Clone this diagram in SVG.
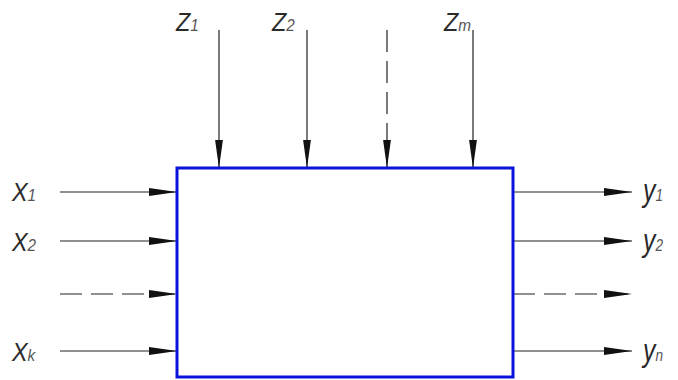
<svg xmlns="http://www.w3.org/2000/svg" width="678" height="380" viewBox="0 0 678 380">
  <style>
    .wire { stroke: #222; stroke-width: 1.2; fill: none; }
    .dash { stroke-dasharray: 22 9; }
    .lbl { font-family: "Liberation Sans", Arial, sans-serif; font-style: italic; font-size: 26px; fill: #2a2a2a; }
    .big { font-size: 31px; }
    .sub { font-size: 17px; fill: #555; }
    .block { fill: #fff; stroke: #0a14d8; stroke-width: 3; }
  </style>
  <defs>
    <marker id="arrow" viewBox="0 0 28 9" refX="28" refY="4.5" markerWidth="28" markerHeight="9" markerUnits="userSpaceOnUse" orient="auto">
      <path d="M0,0.6 L28,4.5 L0,8.4 Z" fill="#111"/>
    </marker>
  </defs>

  <g id="connectors">
    <!-- disturbance inputs from above -->
    <line class="wire" x1="219" y1="30" x2="219" y2="168" marker-end="url(#arrow)"/>
    <line class="wire" x1="307" y1="30" x2="307" y2="168" marker-end="url(#arrow)"/>
    <line class="wire dash" x1="387" y1="30" x2="387" y2="168" marker-end="url(#arrow)"/>
    <line class="wire" x1="473" y1="30" x2="473" y2="168" marker-end="url(#arrow)"/>
    <!-- inputs from the left -->
    <line class="wire" x1="60" y1="192" x2="177" y2="192" marker-end="url(#arrow)"/>
    <line class="wire" x1="60" y1="241" x2="177" y2="241" marker-end="url(#arrow)"/>
    <line class="wire dash" x1="60" y1="294" x2="177" y2="294" marker-end="url(#arrow)"/>
    <line class="wire" x1="60" y1="351" x2="177" y2="351" marker-end="url(#arrow)"/>
    <!-- outputs to the right -->
    <line class="wire" x1="513" y1="192" x2="632" y2="192" marker-end="url(#arrow)"/>
    <line class="wire" x1="513" y1="241" x2="632" y2="241" marker-end="url(#arrow)"/>
    <line class="wire dash" x1="513" y1="294" x2="632" y2="294" marker-end="url(#arrow)"/>
    <line class="wire" x1="513" y1="351" x2="632" y2="351" marker-end="url(#arrow)"/>
  </g>

  <g id="object">
    <rect class="block" x="177" y="168" width="336" height="209"/>
  </g>

  <g id="labels-z">
    <text class="lbl" transform="translate(176,31) scale(0.9,1)">Z<tspan class="sub">1</tspan></text>
    <text class="lbl" transform="translate(272,31) scale(0.9,1)">Z<tspan class="sub">2</tspan></text>
    <text class="lbl" transform="translate(444,31) scale(0.9,1)">Z<tspan class="sub">m</tspan></text>
  </g>

  <g id="labels-x">
    <text class="lbl" transform="translate(12,201) scale(0.9,1)">X<tspan class="sub">1</tspan></text>
    <text class="lbl" transform="translate(12,251) scale(0.9,1)">X<tspan class="sub">2</tspan></text>
    <text class="lbl" transform="translate(12,361) scale(0.9,1)">X<tspan class="sub">k</tspan></text>
  </g>

  <g id="labels-y">
    <text class="lbl big" transform="translate(643,201) scale(0.8,1)">y<tspan class="sub">1</tspan></text>
    <text class="lbl big" transform="translate(643,251) scale(0.8,1)">y<tspan class="sub">2</tspan></text>
    <text class="lbl big" transform="translate(643,361) scale(0.8,1)">y<tspan class="sub">n</tspan></text>
  </g>
</svg>
